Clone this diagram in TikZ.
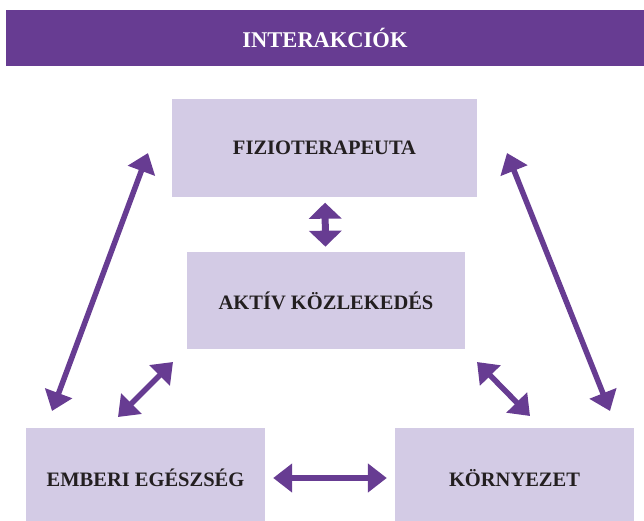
\documentclass[tikz,border=0pt]{standalone}
\usepackage{fontspec}
\setmainfont{Liberation Serif}
\usetikzlibrary{arrows.meta,positioning}

\definecolor{lila}{HTML}{673C92}
\definecolor{halvany}{HTML}{D3CBE5}
\definecolor{sotet}{HTML}{231F20}

\begin{document}
\begin{tikzpicture}[
      x=1pt, y=-1pt,
      doboz/.style={
         rectangle,
         fill=halvany,
         text=sotet,
         inner sep=0pt,
         font=\fontsize{20.5}{24}\selectfont\bfseries},
      kettos/.style={
         {Triangle[width=28pt,length=19pt]}-{Triangle[width=28pt,length=19pt]},
         draw=lila,
         line width=5.5pt},
      rovid/.style={
         {Triangle[width=32pt,length=16pt]}-{Triangle[width=32pt,length=16pt]},
         line width=7pt},
      node distance=55pt
      ]
\useasboundingbox (0,0) rectangle (644,521);

\node[fill=lila, inner sep=0pt, minimum width=638pt, minimum height=56pt,
      text=white, font=\fontsize{22.5}{26}\selectfont\bfseries] (cim) at (325,38) {INTERAKCIÓK};

\node[doboz, minimum width=305pt, minimum height=98pt] (fizio) at (324.5,148) {FIZIOTERAPEUTA};
\node[doboz, minimum width=278pt, minimum height=97pt, below=of fizio, xshift=1.5pt] (aktiv) {AKTÍV KÖZLEKEDÉS};
\node[doboz, minimum width=239pt, minimum height=100pt] (emberi) at (145.5,478) {EMBERI EGÉSZSÉG};
\node[doboz, minimum width=239pt, minimum height=100pt] (kornyezet) at (514.5,478) {KÖRNYEZET};

% szabad vegek
\coordinate (fbal)  at (148,153);
\coordinate (ebal)  at (52,411);
\coordinate (fjobb) at (507,153);
\coordinate (kjobb) at (610,411);
\coordinate (abal)  at (173,362);
\coordinate (efent) at (118,417);
\coordinate (ajobb) at (477,362);
\coordinate (kfent) at (530,416);

\draw[kettos, rovid, shorten <=5.5pt, shorten >=5.5pt] (fizio) -- (aktiv);

\foreach \i/\j/\s in {% start/end/shorten
      emberi/kornyezet/8pt,
      fbal/ebal/0pt,
      fjobb/kjobb/0pt,
      abal/efent/0pt,
      ajobb/kfent/0pt}
       \draw[kettos, shorten <=\s, shorten >=\s] (\i) -- (\j);

\end{tikzpicture}
\end{document}
